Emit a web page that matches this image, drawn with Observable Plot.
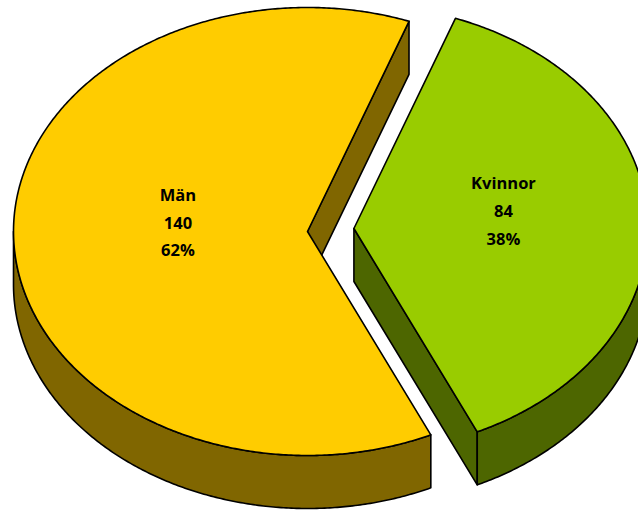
<!DOCTYPE html>
<html><head><meta charset="utf-8">
<script src="https://cdn.jsdelivr.net/npm/d3@7"></script>
<script src="https://cdn.jsdelivr.net/npm/@observablehq/plot@0.6"></script>
<style>body{margin:0;background:#fff;overflow:hidden}</style>
</head><body><div id="chart"></div>
<script>
// ---- data ----
const categories = ["Män", "Kvinnor"];
const values = [140, 84];
const percentLabels = ["62%", "38%"];
const topColors = ["#FFCC00", "#99CC00"];
const sideColors = ["#806600", "#4D6600"];
const exploded = [false, true];

// ---- layout ----
const W = 638, H = 511;
const cx = 307, cy = 231, rx = 294, ry = 224;
const depth = 53 / ry;          // thickness in y-units
const explodeDist = 0.158;      // in radius units
const startAngle = 155.2 * Math.PI / 180;
const labelR = 0.475;

const arcs = d3.pie().sort(null).startAngle(startAngle).endAngle(startAngle + 2 * Math.PI)(values);

function pt(o, th, down) { return {x: o.x + Math.sin(th), y: o.y + Math.cos(th) - (down ? depth : 0)}; }
function arcPts(o, a, b, down) {
  const n = Math.max(2, Math.ceil(Math.abs(b - a) / (Math.PI / 360)));
  const out = [];
  for (let i = 0; i <= n; i++) out.push(pt(o, a + (b - a) * i / n, down));
  return out;
}

const marks = [];
const style = {curve: "linear-closed", stroke: "black", strokeWidth: 1.6, strokeLinejoin: "round", clip: true};
const labelData = [];

arcs.forEach((arc, i) => {
  const a = arc.startAngle, b = arc.endAngle, m = (a + b) / 2;
  const o = exploded[i] ? {x: explodeDist * Math.sin(m), y: explodeDist * Math.cos(m) + 0.007} : {x: 0, y: 0};
  const apexTop = {x: o.x, y: o.y}, apexBot = {x: o.x, y: o.y - depth};
  // radial walls (only those facing the viewer)
  if (Math.sin(a) < 0) {
    marks.push(Plot.line([apexTop, pt(o, a, false), pt(o, a, true), apexBot], {x: "x", y: "y", fill: sideColors[i], ...style}));
  }
  if (Math.sin(b) > 0) {
    marks.push(Plot.line([apexTop, pt(o, b, false), pt(o, b, true), apexBot], {x: "x", y: "y", fill: sideColors[i], ...style}));
  }
  // outer curved wall: front half (90°..270° mod 360)
  for (let k = -1; k <= 2; k++) {
    const lo = Math.max(a, Math.PI / 2 + 2 * Math.PI * k);
    const hi = Math.min(b, 3 * Math.PI / 2 + 2 * Math.PI * k);
    if (hi > lo) {
      const band = arcPts(o, lo, hi, false).concat(arcPts(o, hi, lo, true));
      marks.push(Plot.line(band, {x: "x", y: "y", fill: sideColors[i], ...style}));
    }
  }
  // top face
  const face = [apexTop].concat(arcPts(o, a, b, false));
  marks.push(Plot.line(face, {x: "x", y: "y", fill: topColors[i], ...style}));
  labelData.push({
    x: o.x + labelR * Math.sin(m),
    y: o.y + labelR * Math.cos(m),
    text: `${categories[i]}\n${values[i]}\n${percentLabels[i]}`
  });
});

marks.push(Plot.text(labelData, {
  x: "x", y: "y", text: "text", dx: 10, dy: -16,
  fontFamily: "Open Sans", fontWeight: "bold", fontSize: 16.5, lineHeight: 1.68, fill: "black"
}));

const chart = Plot.plot({
  width: W, height: H, margin: 0,
  x: {domain: [-cx / rx, (W - cx) / rx], range: [0, W], axis: null},
  y: {domain: [(cy - H) / ry, cy / ry], range: [H, 0], axis: null},
  style: {background: "white", overflow: "hidden"},
  marks
});
document.getElementById("chart").appendChild(chart);
</script>
</body></html>
